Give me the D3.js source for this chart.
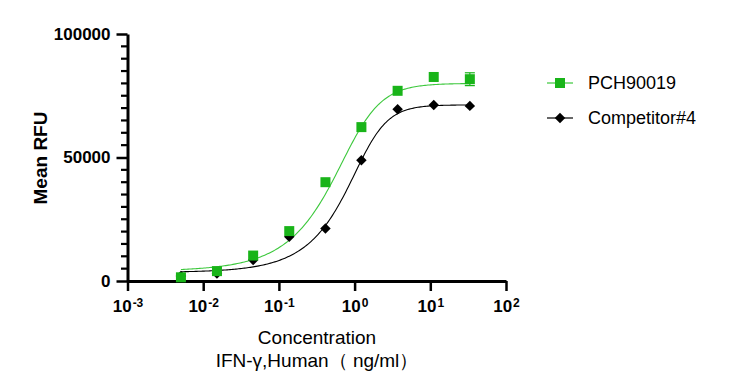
<!DOCTYPE html>
<html>
<head>
<meta charset="utf-8">
<script src="https://cdn.jsdelivr.net/npm/d3@7"></script>
<style>
  body { margin: 0; background: #fff; }
  svg { display: block; font-family: "Liberation Sans", Arial, sans-serif; }
</style>
</head>
<body>
<svg id="chart" width="732" height="390"></svg>
<script>
// concentrations (ng/ml), 3-fold dilution
const conc = [0.00508, 0.0152, 0.0457, 0.137, 0.412, 1.23, 3.70, 11.1, 33.3];
const pchValues = [1500, 4000, 10300, 20200, 40000, 62300, 77000, 82600, 81700];
const pchErr = [0, 0, 0, 0, 0, 0, 0, 0, 2600];
const compValues = [2000, 3000, 8500, 17900, 21300, 48900, 69500, 71300, 70900];
const seriesNames = ['PCH90019', 'Competitor#4'];
const xTicks = [-3, -2, -1, 0, 1, 2];
const yMajor = [0, 50000, 100000];

// asymmetric sigmoid fit (bottom, top, ec50, hill, s)
const pchFit = { bottom: 4000, top: 80000, ec50: 1.0, hill: 1.8, s: 0.5 };
const compFit = { bottom: 3500, top: 71300, ec50: 1.45, hill: 2.2, s: 0.45 };

const green = '#19b419';
const greenLine = '#3cc83c';

const svg = d3.select('#chart');
const x = d3.scaleLog().domain([1e-3, 1e2]).range([127.5, 506]);
const y = d3.scaleLinear().domain([0, 100000]).range([281, 34]);

function fitValue(p, c) {
    return p.bottom + (p.top - p.bottom) / Math.pow(1 + Math.pow(p.ec50 / c, p.hill), p.s);
}

function curvePoints(p) {
    const pts = [];
    const lo = Math.log10(conc[0]), hi = Math.log10(conc[conc.length - 1]);
    for (let i = 0; i <= 200; i++) {
        const c = Math.pow(10, lo + (hi - lo) * i / 200);
        pts.push([c, fitValue(p, c)]);
    }
    return pts;
}

// y axis minor ticks every 5000
const yMinor = d3.range(0, 100001, 5000).filter(v => yMajor.indexOf(v) < 0);
svg.append('g').selectAll('line')
    .data(yMinor)
    .join('line')
    .attr('x1', 121).attr('x2', 128)
    .attr('y1', d => y(d)).attr('y2', d => y(d))
    .attr('stroke', '#000').attr('stroke-width', 2.2);

const yAxis = svg.append('g')
    .attr('transform', 'translate(127.5,0)')
    .call(d3.axisLeft(y).tickValues(yMajor).tickSize(11).tickSizeOuter(0).tickPadding(6).tickFormat(d3.format('d')));
yAxis.select('.domain').attr('stroke', '#000').attr('stroke-width', 3);
yAxis.selectAll('line').attr('stroke', '#000').attr('stroke-width', 2.5);
yAxis.selectAll('text')
    .attr('font-size', 17).attr('font-weight', 'bold').attr('fill', '#000')
    .attr('font-family', '"Liberation Sans", Arial, sans-serif');

// x axis, log decades with superscript exponents
const xAxis = svg.append('g')
    .attr('transform', 'translate(0,281)')
    .call(d3.axisBottom(x).tickValues(xTicks.map(e => Math.pow(10, e))).tickSize(10).tickSizeOuter(0).tickPadding(9));
xAxis.select('.domain').attr('stroke', '#000').attr('stroke-width', 3);
xAxis.selectAll('line').attr('stroke', '#000').attr('stroke-width', 2.5);
xAxis.selectAll('text')
    .attr('font-size', 17).attr('font-weight', 'bold').attr('fill', '#000')
    .attr('font-family', '"Liberation Sans", Arial, sans-serif')
    .each(function (d) {
        const t = d3.select(this).text('');
        t.append('tspan').text('10');
        t.append('tspan').attr('font-size', 12).attr('dy', -5).attr('dx', 1).text(Math.round(Math.log10(d)));
    });

// axis titles
svg.append('text')
    .attr('transform', 'translate(47,158) rotate(-90)')
    .attr('text-anchor', 'middle')
    .attr('font-size', 19).attr('font-weight', 'bold')
    .text('Mean RFU');

svg.append('text')
    .attr('x', 317).attr('y', 344)
    .attr('text-anchor', 'middle').attr('font-size', 19)
    .text('Concentration');
svg.append('text')
    .attr('x', 317).attr('y', 367)
    .attr('text-anchor', 'middle').attr('font-size', 19)
    .text('IFN-γ,Human（ ng/ml）');

// fitted curves
const line = d3.line().x(d => x(d[0])).y(d => y(d[1]));
svg.append('path').datum(curvePoints(compFit))
    .attr('d', line).attr('fill', 'none').attr('stroke', '#000').attr('stroke-width', 1.1);
svg.append('path').datum(curvePoints(pchFit))
    .attr('d', line).attr('fill', 'none').attr('stroke', greenLine).attr('stroke-width', 1.1);

// competitor markers (diamonds)
const diamond = d3.symbol().type(d3.symbolDiamond2).size(70);
svg.append('g').selectAll('path')
    .data(conc.map((c, i) => [c, compValues[i]]))
    .join('path')
    .attr('transform', d => `translate(${x(d[0])},${y(d[1])})`)
    .attr('d', diamond).attr('fill', '#000');

// PCH90019 error bars and markers
const errG = svg.append('g').attr('stroke', green).attr('stroke-width', 1.2);
conc.forEach((c, i) => {
    if (!pchErr[i]) return;
    const cx = x(c), y0 = y(pchValues[i] - pchErr[i]), y1 = y(pchValues[i] + pchErr[i]);
    errG.append('line').attr('x1', cx).attr('x2', cx).attr('y1', y0).attr('y2', y1);
    errG.append('line').attr('x1', cx - 5).attr('x2', cx + 5).attr('y1', y0).attr('y2', y0);
    errG.append('line').attr('x1', cx - 5).attr('x2', cx + 5).attr('y1', y1).attr('y2', y1);
});
svg.append('g').selectAll('rect')
    .data(conc.map((c, i) => [c, pchValues[i]]))
    .join('rect')
    .attr('x', d => x(d[0]) - 5).attr('y', d => y(d[1]) - 5)
    .attr('width', 10).attr('height', 10).attr('fill', green);

// legend
const legend = svg.append('g');
const rows = [83, 118];
legend.append('line').attr('x1', 547).attr('x2', 573).attr('y1', rows[0]).attr('y2', rows[0])
    .attr('stroke', greenLine).attr('stroke-width', 1.2);
legend.append('rect').attr('x', 555).attr('y', rows[0] - 5).attr('width', 10).attr('height', 10).attr('fill', green);
legend.append('line').attr('x1', 547).attr('x2', 573).attr('y1', rows[1]).attr('y2', rows[1])
    .attr('stroke', '#000').attr('stroke-width', 1.2);
legend.append('path').attr('transform', `translate(560,${rows[1]})`).attr('d', diamond).attr('fill', '#000');
seriesNames.forEach((name, i) => {
    legend.append('text')
        .attr('x', 588).attr('y', rows[i]).attr('dy', '0.35em')
        .attr('font-size', 18)
        .text(name);
});
</script>
</body>
</html>
